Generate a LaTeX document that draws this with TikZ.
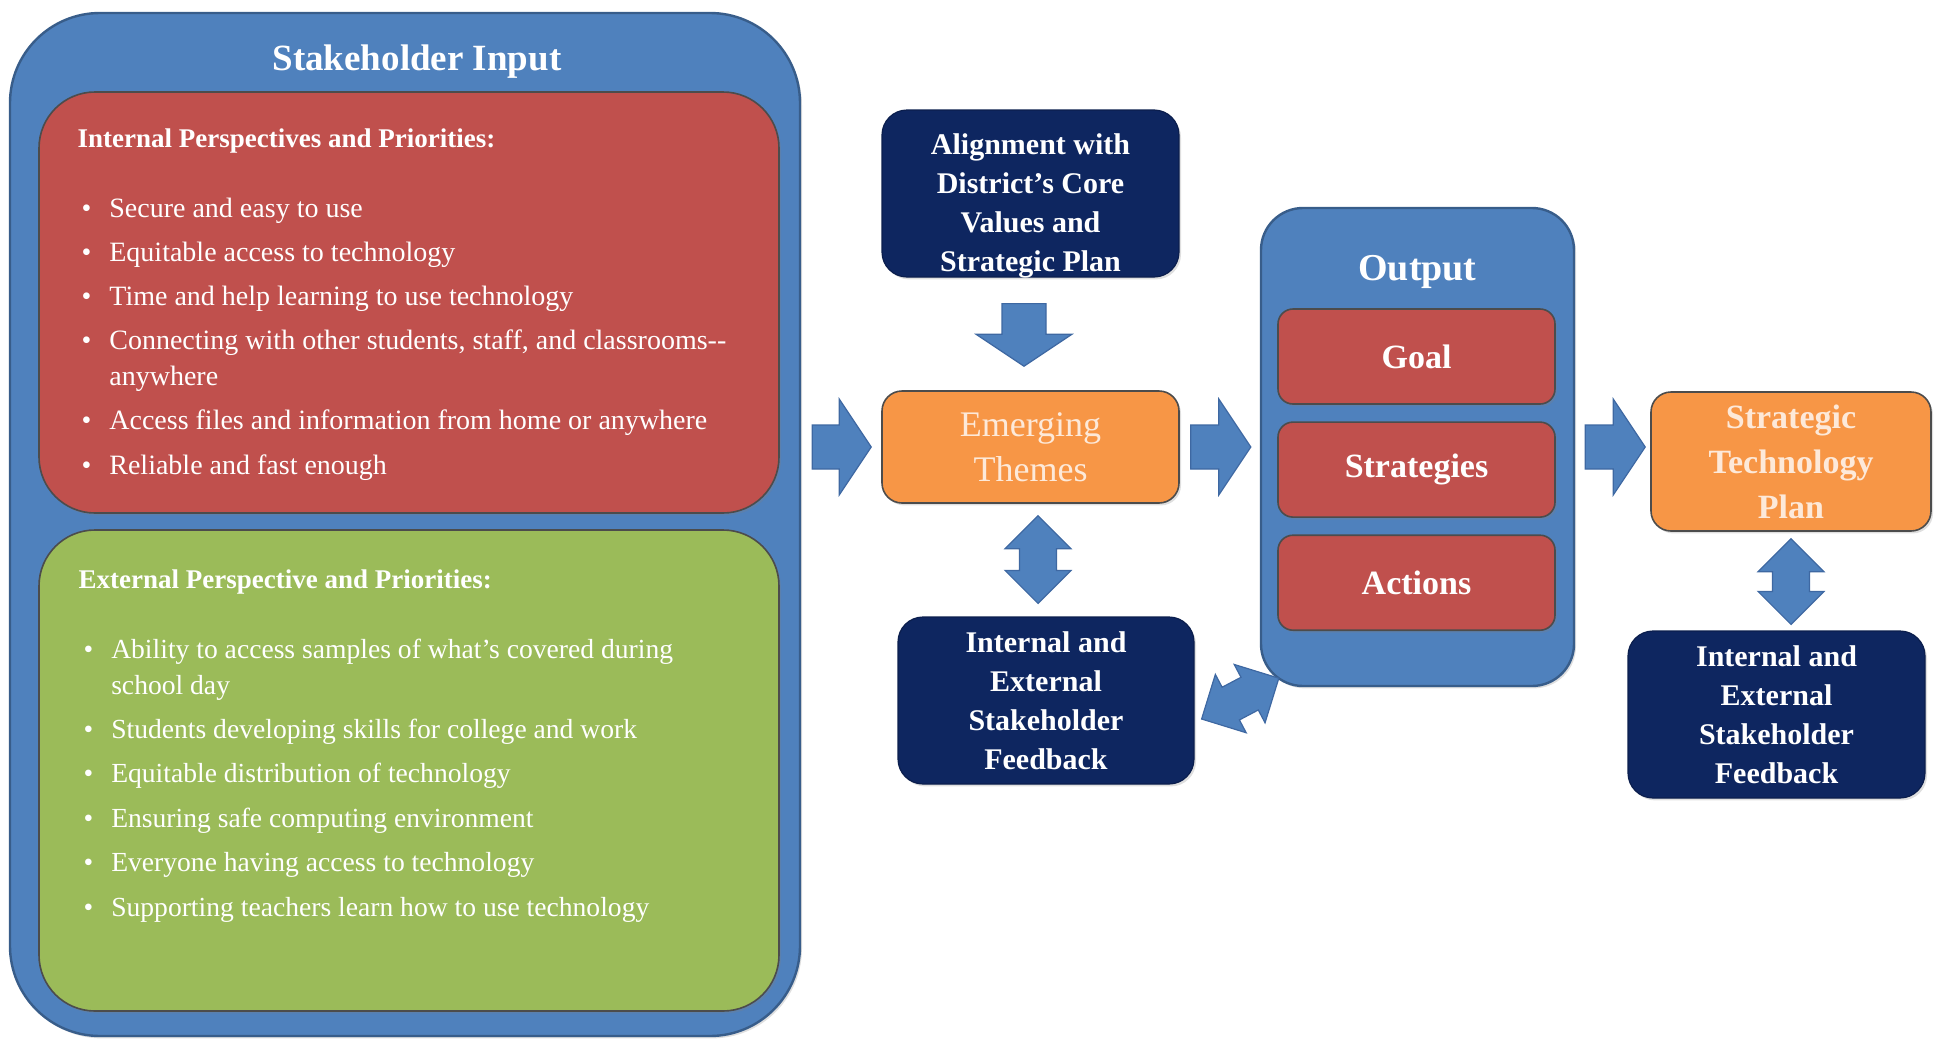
\documentclass[tikz,border=0pt]{standalone}
\usepackage{fontspec}
\setmainfont{Liberation Serif}
\usepackage{tikz}
\usetikzlibrary{calc,positioning,shadows}

\definecolor{panelblue}{RGB}{79,129,189}
\definecolor{paneledge}{RGB}{56,93,138}
\definecolor{arrowedge}{RGB}{62,104,162}
\definecolor{prired}{RGB}{192,80,77}
\definecolor{prigreen}{RGB}{155,187,89}
\definecolor{themeorange}{RGB}{247,150,70}
\definecolor{deepnavy}{RGB}{14,38,96}
\definecolor{cream}{RGB}{253,233,217}

\begin{document}
\begin{tikzpicture}[x=0.5pt,y=0.5pt,semithick,inner sep=0pt]

	\tikzstyle{shade}=[drop shadow={opacity=0.25,shadow xshift=1pt,shadow yshift=-1.2pt}]
	\tikzstyle{panel}=[shade,draw=paneledge,fill=panelblue,line width=1.2pt]
	\tikzstyle{pribox}=[shade,draw=black!70,line width=0.8pt,rounded corners=28pt,minimum width=370pt]
	\tikzstyle{headtext}=[anchor=base west,text=white,font=\bfseries\fontsize{13.5}{16}\selectfont]
	\tikzstyle{listtext}=[anchor=base west,text=white,font=\fontsize{13.8}{18}\selectfont]
	\tikzstyle{navytext}=[text=white,align=center,font=\bfseries\fontsize{15}{19.5}\selectfont]
	\tikzstyle{navybox}=[shade,draw=deepnavy!80!black,fill=deepnavy,rounded corners=12.5pt,
		navytext,minimum width=148.5pt,minimum height=83.5pt]
	\tikzstyle{orangebox}=[shade,draw=black!70,fill=themeorange,line width=0.8pt,
		rounded corners=10pt,text=cream,align=center]
	\tikzstyle{redbox}=[shade,draw=black!70,fill=prired,line width=0.8pt,rounded corners=7.5pt,
		text=white,font=\bfseries\fontsize{17}{20}\selectfont,
		minimum width=138.5pt,minimum height=47.5pt]
	% block arrows, drawn as outlines between two points
	\tikzstyle{bigarrow}=[draw=arrowedge,fill=panelblue,line width=0.6pt,
		to path={($(\tikztostart)!11pt!90:(\tikztotarget)$)
			-- ($(\tikztotarget)!16pt!(\tikztostart)!11pt!-90:(\tikztostart)$)
			-- ($(\tikztotarget)!16pt!(\tikztostart)!24pt!-90:(\tikztostart)$)
			-- (\tikztotarget)
			-- ($(\tikztotarget)!16pt!(\tikztostart)!24pt!90:(\tikztostart)$)
			-- ($(\tikztotarget)!16pt!(\tikztostart)!11pt!90:(\tikztostart)$)
			-- ($(\tikztostart)!11pt!-90:(\tikztotarget)$) -- cycle}]
	\tikzstyle{twoarrow}=[draw=arrowedge,fill=panelblue,line width=0.6pt,
		to path={(\tikztostart)
			-- ($(\tikztostart)!16.5pt!(\tikztotarget)!16.5pt!90:(\tikztotarget)$)
			-- ($(\tikztostart)!16.5pt!(\tikztotarget)!9.25pt!90:(\tikztotarget)$)
			-- ($(\tikztotarget)!16.5pt!(\tikztostart)!9.25pt!-90:(\tikztostart)$)
			-- ($(\tikztotarget)!16.5pt!(\tikztostart)!16.5pt!-90:(\tikztostart)$)
			-- (\tikztotarget)
			-- ($(\tikztotarget)!16.5pt!(\tikztostart)!16.5pt!90:(\tikztostart)$)
			-- ($(\tikztotarget)!16.5pt!(\tikztostart)!9.25pt!90:(\tikztostart)$)
			-- ($(\tikztostart)!16.5pt!(\tikztotarget)!9.25pt!-90:(\tikztotarget)$)
			-- ($(\tikztostart)!16.5pt!(\tikztotarget)!16.5pt!-90:(\tikztotarget)$) -- cycle}]

	\useasboundingbox (0,0) rectangle (1939,-1039);

	% stakeholder input
	\node[panel,rounded corners=45pt,minimum width=395pt,minimum height=511.5pt] (input) at (405,-524.5) {};
	\node[anchor=base,text=white,font=\bfseries\fontsize{18.5}{22}\selectfont] (inputtitle) at (417,-70) {Stakeholder Input};
	\node[pribox,fill=prired,minimum height=210.5pt] (intbox) at (409,-302.5) {};
	\node[pribox,fill=prigreen,minimum height=240.5pt] (extbox) at (409,-770.5) {};
	\node[headtext] (inthead) at (77,-147) {Internal Perspectives and Priorities:};
	\node[headtext] (exthead) at (78,-588) {External Perspective and Priorities:};
	\node[listtext,font=\fontsize{14}{18}\selectfont] (intlist) at (81,-217) {\begin{tabular}[t]{@{}l@{\hspace{9pt}}l@{}}
		\textbullet & Secure and easy to use\\[4.1pt]
		\textbullet & Equitable access to technology\\[4.1pt]
		\textbullet & Time and help learning to use technology\\[4.1pt]
		\textbullet & Connecting with other students, staff, and classrooms-{}-\\
		& anywhere\\[4.1pt]
		\textbullet & Access files and information from home or anywhere\\[4.1pt]
		\textbullet & Reliable and fast enough
	\end{tabular}};
	\node[listtext] (extlist) at (83,-658) {\begin{tabular}[t]{@{}l@{\hspace{9pt}}l@{}}
		\textbullet & Ability to access samples of what's covered during\\
		& school day\\[4.2pt]
		\textbullet & Students developing skills for college and work\\[4.2pt]
		\textbullet & Equitable distribution of technology\\[4.2pt]
		\textbullet & Ensuring safe computing environment\\[4.2pt]
		\textbullet & Everyone having access to technology\\[4.2pt]
		\textbullet & Supporting teachers learn how to use technology
	\end{tabular}};

	% middle column
	\node[navybox] (align) at (1030.5,-193.5) {};
	\node[navytext] (aligntext) at ($(align.center)+(0,-6pt)$) {Alignment with\\District's Core\\Values and\\Strategic Plan};
	\node[orangebox,minimum width=148.5pt,minimum height=56pt,font=\fontsize{18}{22.5}\selectfont] (themes) at (1030.5,-447) {Emerging\\Themes};
	\node[navybox,minimum width=148pt] (fb1) at (1046,-700.5) {Internal and\\External\\Stakeholder\\Feedback};

	% output
	\node[panel,rounded corners=21pt,minimum width=156.5pt,minimum height=239pt] (output) at (1417.5,-447) {};
	\node[anchor=base,text=white,font=\bfseries\fontsize{19}{22}\selectfont] (outlabel) at (1417.5,-280) {Output};
	\node[redbox] (goal) at (1416.5,-356.5) {Goal};
	\node[redbox,below=8.25pt of goal] (strat) {Strategies};
	\node[redbox,below=8.25pt of strat] (actions) {Actions};

	% plan
	\node[orangebox,minimum width=140pt,minimum height=69.5pt,font=\bfseries\fontsize{17}{22.5}\selectfont] (plan) at (1791,-461.5) {Strategic\\Technology\\Plan};
	\node[navybox] (fb2) at (1776.5,-714.5) {Internal and\\External\\Stakeholder\\Feedback};

	\path[bigarrow] ($(input.east |- themes.west)+(5.5pt,0)$) to ($(themes.west)+(-5pt,0)$);
	\path[bigarrow] ($(themes.east)+(5.5pt,0)$) to ($(output.west)+(-4.5pt,0)$);
	\path[bigarrow] ($(output.east)+(5pt,0)$) to ($(plan.west |- output.east)+(-2.5pt,0)$);
	\path[bigarrow] ($(align.south)+(-3.25pt,-13pt)$) to ($(themes.north)+(-3.25pt,12pt)$);
	\path[twoarrow] ($(themes.south)+(3.75pt,-6pt)$) to ($(fb1.north)+(-4pt,6.5pt)$);
	\path[twoarrow] ($(fb1.east)+(3.5pt,-9.25pt)$) to ($(output.south west)+(9.5pt,4.5pt)$);
	\path[twoarrow] ($(plan.south)+(0,-3.5pt)$) to ($(fb2.north)+(7.25pt,3pt)$);
\end{tikzpicture}
\end{document}
